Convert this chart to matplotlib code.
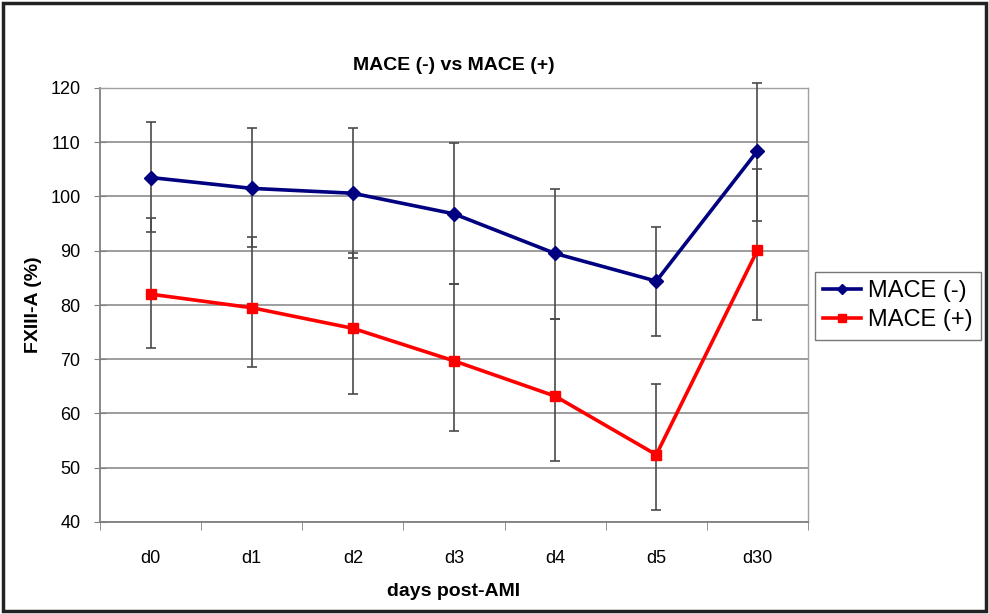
import matplotlib
matplotlib.use("Agg")
import matplotlib.pyplot as plt
from matplotlib.patches import Rectangle
import numpy as np

plt.rcParams['font.family'] = ['Liberation Sans', 'DejaVu Sans']

days = ['d0', 'd1', 'd2', 'd3', 'd4', 'd5', 'd30']

# MACE (-) : mean FXIII-A and error bar ends
neg_mean = [103.5, 101.5, 100.6, 96.8, 89.5, 84.4, 108.4]
neg_hi = [113.8, 112.7, 112.7, 109.8, 101.4, 94.4, 121.0]
neg_lo = [93.5, 90.7, 88.7, 83.8, 77.5, 74.3, 95.4]

# MACE (+)
pos_mean = [82.0, 79.5, 75.7, 69.7, 63.2, 52.4, 90.1]
pos_hi = [96.1, 92.5, 89.6, 83.8, 77.5, 65.4, 105.1]
pos_lo = [72.1, 68.5, 63.6, 56.8, 51.2, 42.3, 77.2]

fig = plt.figure(figsize=(9.89, 6.14), dpi=100)
ax = fig.add_axes([100 / 989, 1 - 522 / 614, 708 / 989, 434 / 614])

x = np.arange(len(days))


def draw(mean, lo, hi, color, marker, ms, label):
	mean = np.array(mean)
	err = [mean - np.array(lo), np.array(hi) - mean]
	eb = ax.errorbar(x, mean, yerr=err, fmt='none', ecolor='#4a4a4a',
	                 elinewidth=1.2, capsize=3.5, capthick=1.2, zorder=3)
	for part in eb.lines[1] + eb.lines[2]:
		part.set_clip_on(False)
	ax.plot(x, mean, color=color, lw=2.6, marker=marker, ms=ms,
	        label=label, zorder=4)


draw(neg_mean, neg_lo, neg_hi, '#000080', 'D', 7, 'MACE (-)')
draw(pos_mean, pos_lo, pos_hi, '#ff0000', 's', 7.5, 'MACE (+)')

ax.set_xlim(-0.5, len(days) - 0.5)
ax.set_ylim(40, 120)
ax.set_yticks(range(40, 121, 10))
ax.set_xticks(x)
ax.set_xticklabels(days)
ax.set_xticks(np.arange(-0.5, len(days), 1), minor=True)
ax.tick_params(axis='x', which='major', length=0, pad=20, labelsize=13)
ax.tick_params(axis='x', which='minor', length=6, direction='out', color='#808080')
ax.tick_params(axis='y', length=8, direction='inout', color='#808080', labelsize=13, pad=10)

ax.yaxis.grid(True, color='#8c8c8c', lw=1.2)
ax.set_axisbelow(True)
for side in ['left', 'bottom']:
	ax.spines[side].set_color('#808080')
	ax.spines[side].set_linewidth(1.3)
for side in ['right', 'top']:
	ax.spines[side].set_color('#a0a0a0')
	ax.spines[side].set_linewidth(1.0)

ax.set_title('MACE (-) vs MACE (+)', fontsize=14, fontweight='bold', pad=13)
ax.set_xlabel('days post-AMI', fontsize=14, fontweight='bold', labelpad=12)
ax.set_ylabel('FXIII-A (%)', fontsize=14, fontweight='bold', labelpad=6)

leg = fig.legend(loc='upper left', bbox_to_anchor=(815 / 989, 1 - 272 / 614),
                 fontsize=17, frameon=True, fancybox=False, borderaxespad=0,
                 handlelength=1.6, handletextpad=0.3, borderpad=0.35,
                 labelspacing=0.3, markerscale=0.75)
leg.get_frame().set_edgecolor('#555555')
leg.get_frame().set_linewidth(1.0)

# frame around the whole chart
fig.patches.append(Rectangle((3 / 989, 3 / 614), 983 / 989, 608 / 614,
                             transform=fig.transFigure, fill=False,
                             edgecolor='#222222', lw=2.5))

fig.savefig('out.png', dpi=100)
